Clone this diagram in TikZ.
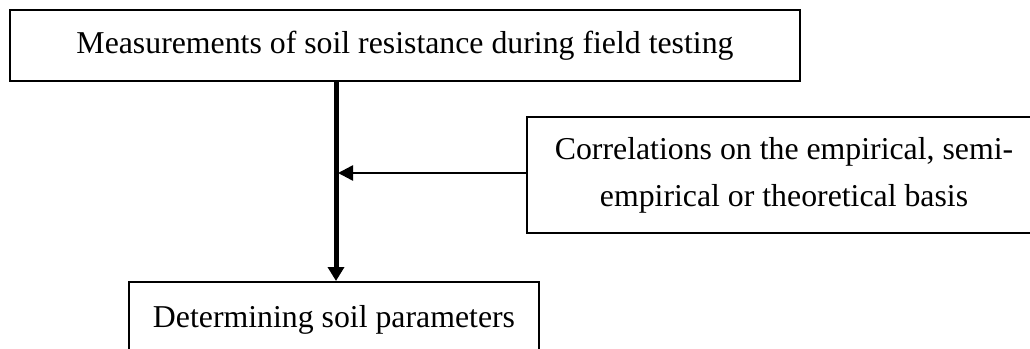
\documentclass[tikz,border=0pt]{standalone}
\usepackage{fontspec}
\setmainfont{Liberation Serif}
\usetikzlibrary{arrows.meta}
\tikzset{
  box/.style={draw=black, line width=2pt, rectangle, inner sep=0pt, align=center,
    font=\fontsize{31.8}{47}\selectfont},
  thickarrow/.style={line width=5pt, -{Triangle[length=14pt 0,width=16pt 0]}},
  thinarrow/.style={line width=2.5pt, -{Triangle[length=15pt 0,width=15pt 0]}},
}
\begin{document}
\begin{tikzpicture}[x=1pt,y=-1pt]
  \useasboundingbox (0,0) rectangle (1030,348);
  \clip (0,0) rectangle (1030,348);
  \node[box, minimum width=514pt, minimum height=116pt] (corr) at (784,175)
    {Correlations on the empirical, semi-\\empirical or theoretical basis};
  \node[box, minimum width=790pt, minimum height=71pt] (top) at (405,45.5)
    {Measurements of soil resistance during field testing};
  \node[box, minimum width=410pt, minimum height=76pt] (det) at (334,320)
    {Determining soil parameters};
  \coordinate (join) at ([xshift=2pt]corr.west -| det.north);
  \draw[thickarrow] ([xshift=2pt]det.north |- top.south) -- ([xshift=2pt]det.north);
  \draw[thinarrow, shorten >=2pt] ([yshift=2pt]corr.west) -- ([yshift=2pt]join);
\end{tikzpicture}
\end{document}
